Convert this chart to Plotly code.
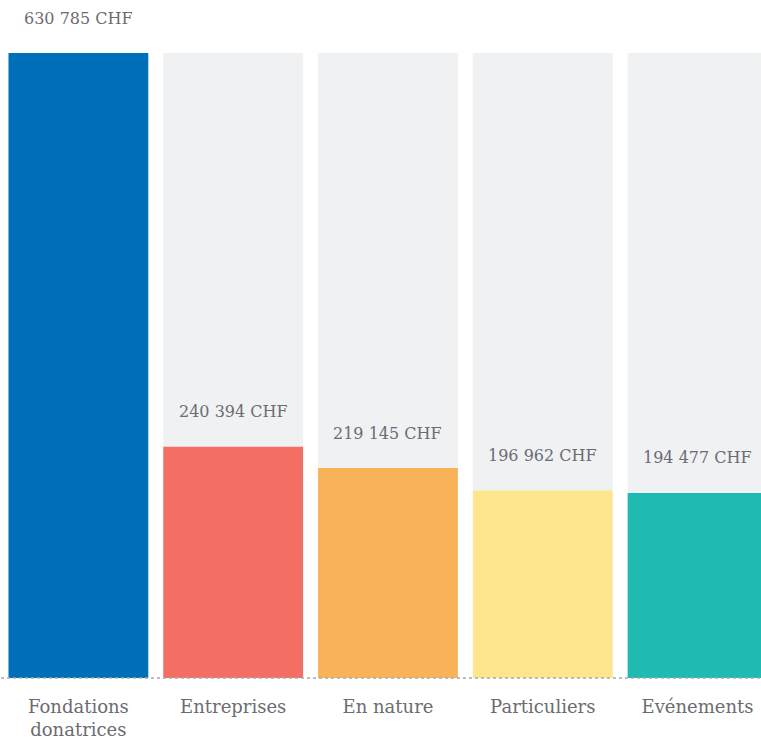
import plotly.graph_objects as go

categories = ["Fondations<br>donatrices", "Entreprises", "En nature", "Particuliers", "Evénements"]
values = [630785, 240394, 219145, 196962, 194477]
value_labels = ["630 785 CHF", "240 394 CHF", "219 145 CHF", "196 962 CHF", "194 477 CHF"]
colors = ["#006fb9", "#f36e63", "#f9b257", "#fde68d", "#1fbbb3"]

FONT = "DejaVu Serif"
TEXT_COLOR = "#6b6c72"
max_v = max(values)

fig = go.Figure()
fig.add_trace(go.Bar(x=categories, y=[max_v] * len(values), marker_color="#f0f1f3",
                     marker_line_width=0, hoverinfo="skip", showlegend=False))
fig.add_trace(go.Bar(x=categories, y=values, marker_color=colors,
                     marker_line_width=0, showlegend=False))

for c, v, lab in zip(categories, values, value_labels):
    fig.add_annotation(x=c, y=v, text=lab, showarrow=False, yanchor="middle", yshift=35,
                       font=dict(family=FONT, size=16, color=TEXT_COLOR))

fig.add_shape(type="line", xref="paper", yref="paper", x0=0, x1=1, y0=0, y1=0,
              line=dict(color="#a9a9ad", width=1.5, dash="dot"))

fig.update_layout(
    width=761, height=750,
    margin=dict(l=1, r=0, t=53, b=72),
    barmode="overlay", bargap=0.097,
    plot_bgcolor="white", paper_bgcolor="white",
    xaxis=dict(range=[-0.5, 4.41], showgrid=False, zeroline=False, showline=False,
               ticks="outside", ticklen=12, tickcolor="rgba(0,0,0,0)",
               tickfont=dict(family=FONT, size=18, color=TEXT_COLOR)),
    yaxis=dict(range=[11000, max_v], visible=False, showgrid=False, zeroline=False),
)

fig.write_html("out.html", config={"displayModeBar": False},
               post_script="document.body.style.margin='0';document.body.style.overflow='hidden';")
